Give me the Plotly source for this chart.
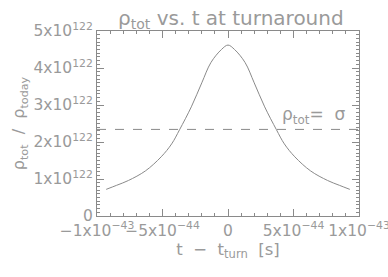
import plotly.graph_objects as go

# time relative to turnaround (s)
t_left = [-0.93e-43, -0.85e-43, -0.76e-43, -0.63e-43, -0.51e-43, -0.43e-43, -0.37e-43,
          -0.28e-43, -0.20e-43, -0.13e-43, -0.05e-43]
rho_left = [0.72e122, 0.83e122, 0.96e122, 1.22e122, 1.60e122, 1.95e122, 2.33e122,
            2.95e122, 3.60e122, 4.15e122, 4.50e122]
t_peak = [0.0]
rho_peak = [4.62e122]
t_vals = t_left + t_peak + [-v for v in reversed(t_left)]
rho_vals = rho_left + rho_peak + list(reversed(rho_left))

sigma = 2.34e122

x_tickvals = [-1e-43, -5e-44, 0, 5e-44, 1e-43]
x_ticktext = ["−1x10<sup>−43</sup>", "−5x10<sup>−44</sup>", "0",
              "5x10<sup>−44</sup>", "1x10<sup>−43</sup>"]
y_tickvals = [0, 1e122, 2e122, 3e122, 4e122, 5e122]
y_ticktext = ["0", "1x10<sup>122</sup>", "2x10<sup>122</sup>", "3x10<sup>122</sup>",
              "4x10<sup>122</sup>", "5x10<sup>122</sup>"]

grey = "#8a8a8a"
txt = "#9a9a9a"
font = "DejaVu Sans"

fig = go.Figure()
fig.add_trace(go.Scatter(x=t_vals, y=rho_vals, mode="lines",
                         line=dict(color=grey, width=1, shape="spline", smoothing=1.0),
                         showlegend=False, hoverinfo="skip"))
fig.add_hline(y=sigma, line=dict(color=grey, width=1, dash="dash"))
fig.add_annotation(x=0.955, y=sigma, xref="paper", yref="y", xanchor="right", yanchor="bottom",
                   text="ρ<sub>tot</sub>=  σ", showarrow=False,
                   font=dict(family=font, size=17, color=txt), yshift=0)

axis_common = dict(showline=True, linecolor=grey, linewidth=1, mirror="allticks",
                   ticks="inside", tickcolor=grey, showgrid=False, zeroline=False,
                   automargin=False, ticklabeloverflow="allow",
                   tickfont=dict(family=font, size=15.5, color=txt))

eps = 1e-47
fig.update_xaxes(range=[-1e-43 - eps, 1e-43 + eps], tickmode="array", tickvals=x_tickvals,
                 ticktext=x_ticktext, ticklen=7, tickangle=0,
                 minor=dict(ticks="inside", dtick=1e-44, tick0=0, ticklen=3, tickcolor=grey),
                 title=dict(text="t  −  t<sub>turn</sub>  [s]", font=dict(family=font, size=16.5, color=txt),
                            standoff=0),
                 **axis_common)
fig.update_yaxes(range=[0, 5e122], tickmode="array", tickvals=y_tickvals,
                 ticktext=y_ticktext, ticklen=7,
                 minor=dict(ticks="inside", dtick=1e121, tick0=0, ticklen=3, tickcolor=grey),
                 title=dict(text="ρ<sub>tot</sub>  /  ρ<sub>today</sub>",
                            font=dict(family=font, size=16, color=txt), standoff=4),
                 **axis_common)

fig.update_layout(width=388, height=277, margin=dict(l=97, r=29, t=31, b=61),
                  plot_bgcolor="white", paper_bgcolor="white",
                  title=dict(text="ρ<sub>tot</sub> vs. t at turnaround", x=0.595, xanchor="center",
                             xref="container", yref="container", y=0.935, yanchor="middle",
                             automargin=False,
                             font=dict(family=font, size=20, color=txt)))

fig.write_html("out.html", config={"displayModeBar": False, "staticPlot": True},
               post_script="document.body.style.margin='0';document.body.style.overflow='hidden';")
